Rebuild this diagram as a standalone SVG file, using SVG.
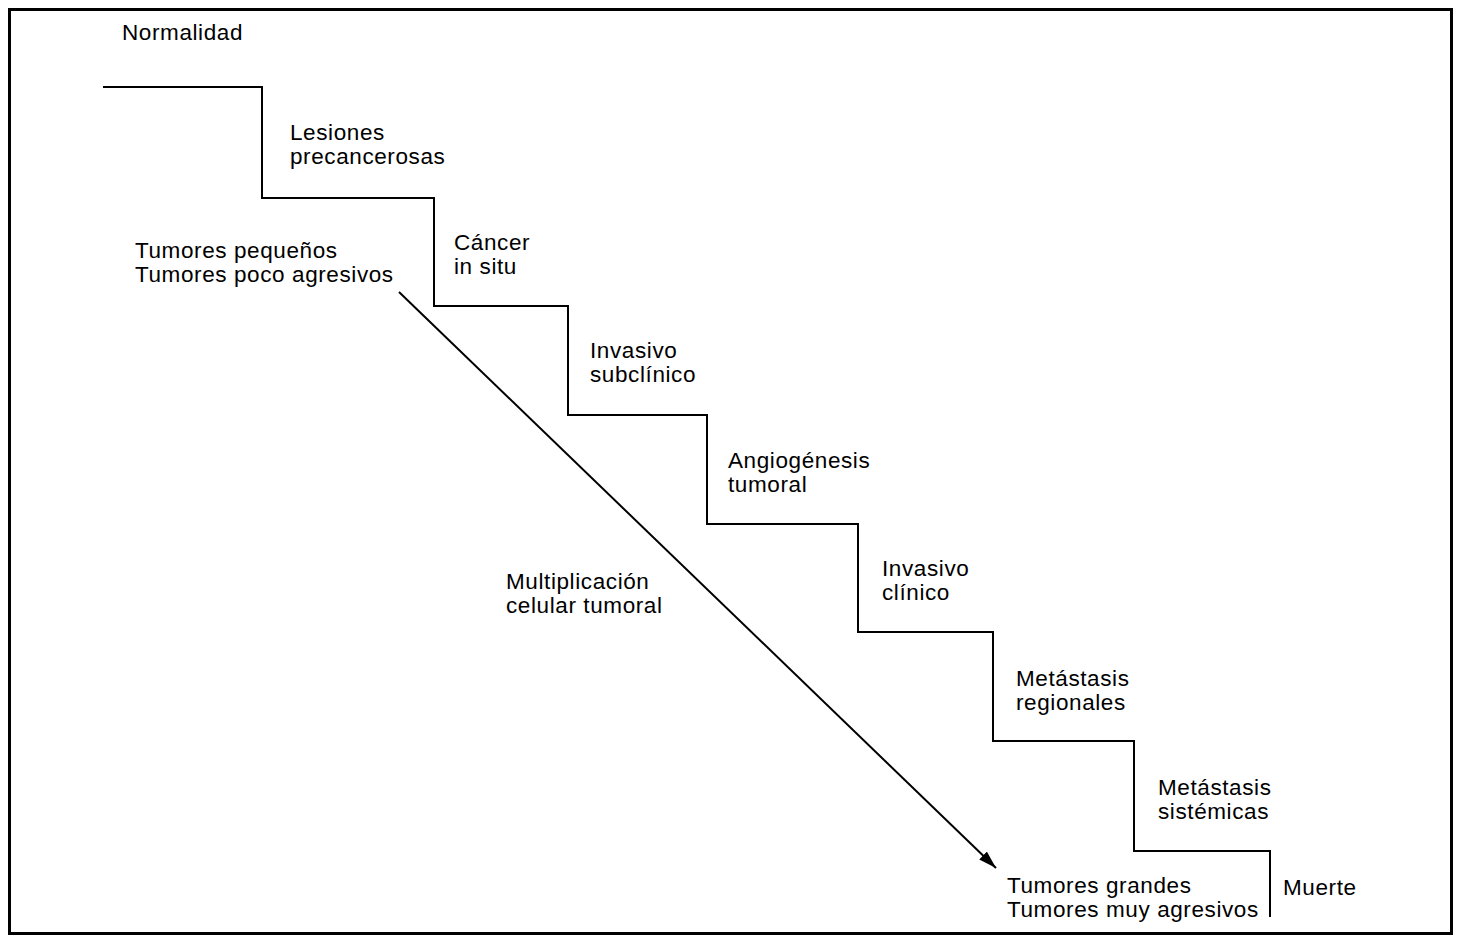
<svg xmlns="http://www.w3.org/2000/svg" width="1463" height="942" viewBox="0 0 1463 942">
<style>
text{font-family:"Liberation Sans",Arial,Helvetica,sans-serif;font-size:22.5px;letter-spacing:0.6px;fill:#000}
.ln{fill:none;stroke:#000;stroke-width:2}
</style>
<defs>
<marker id="ah" viewBox="0 0 18 11" refX="18" refY="5.5" markerWidth="18" markerHeight="11" markerUnits="userSpaceOnUse" orient="auto">
<path d="M0,0 L18,5.5 L0,11 Z" fill="#000"/>
</marker>
</defs>
<rect width="1463" height="942" fill="#fff"/>
<rect x="9.5" y="9.5" width="1442" height="924" fill="none" stroke="#000" stroke-width="3"/>
<g id="connectors">
<path id="staircase" class="ln" d="M103,87 H262 V198 H434 V306 H568 V415 H707 V524 H858 V632 H993 V741 H1134 V851 H1270 V917"/>
<line id="arrow" class="ln" x1="399" y1="292" x2="996" y2="868" marker-end="url(#ah)"/>
</g>
<g id="normalidad"><text x="122" y="40">Normalidad</text></g>
<g id="lesiones"><text x="290" y="140">Lesiones</text><text x="290" y="164">precancerosas</text></g>
<g id="cancer"><text x="454" y="250">Cáncer</text><text x="454" y="274">in situ</text></g>
<g id="tumores-pequenos"><text x="135" y="258">Tumores pequeños</text><text x="135" y="282">Tumores poco agresivos</text></g>
<g id="invasivo-subclinico"><text x="590" y="358">Invasivo</text><text x="590" y="382">subclínico</text></g>
<g id="angiogenesis"><text x="728" y="468">Angiogénesis</text><text x="728" y="492">tumoral</text></g>
<g id="invasivo-clinico"><text x="882" y="576">Invasivo</text><text x="882" y="600">clínico</text></g>
<g id="multiplicacion"><text x="506" y="589">Multiplicación</text><text x="506" y="613">celular tumoral</text></g>
<g id="metastasis-regionales"><text x="1016" y="686">Metástasis</text><text x="1016" y="710">regionales</text></g>
<g id="metastasis-sistemicas"><text x="1158" y="795">Metástasis</text><text x="1158" y="819">sistémicas</text></g>
<g id="tumores-grandes"><text x="1007" y="893">Tumores grandes</text><text x="1007" y="917">Tumores muy agresivos</text></g>
<g id="muerte"><text x="1283" y="895">Muerte</text></g>
</svg>
